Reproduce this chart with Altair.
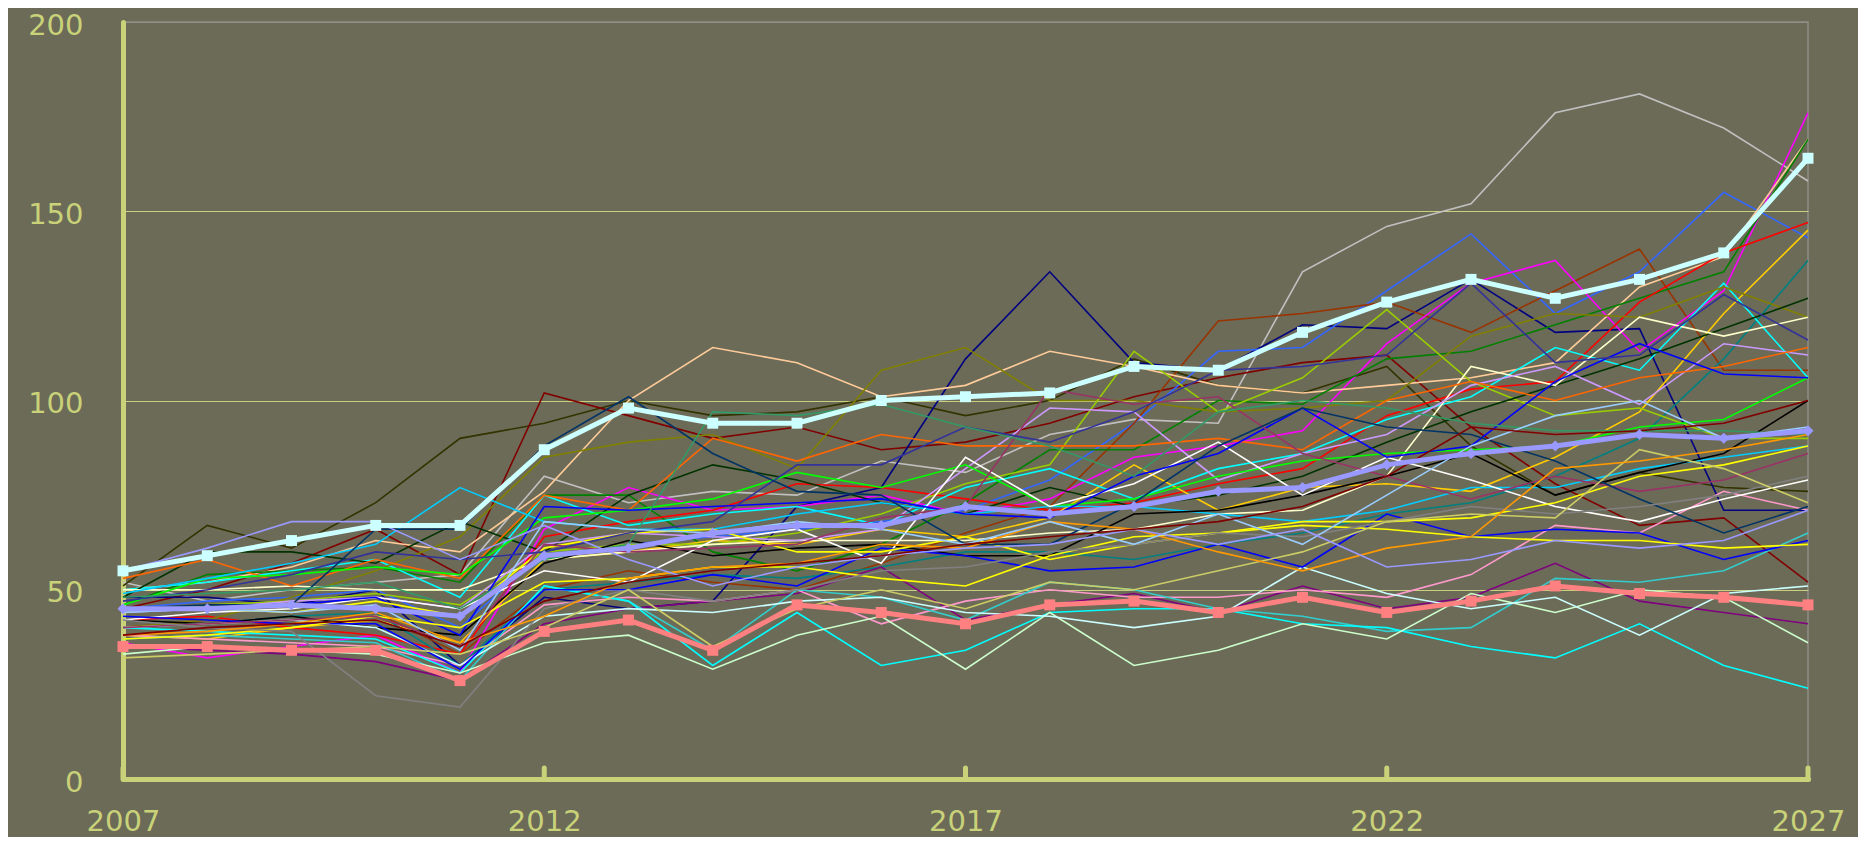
import altair as alt
import pandas as pd

years = list(range(2007, 2028))

# highlighted series
hl_top = [55, 59, 63, 67, 67, 87, 98, 94, 94, 100, 101, 102, 109, 108, 118, 126, 132, 127, 132, 139, 164]
hl_mid = [45, 45, 46, 45, 43, 59, 61, 65, 67, 67, 72, 70, 72, 76, 77, 83, 86, 88, 91, 90, 92]
hl_low = [35, 35, 34, 34, 26, 39, 42, 34, 46, 44, 41, 46, 47, 44, 48, 44, 47, 51, 49, 48, 46]

# thin series
s_silver = [52, 47, 50, 52, 54, 80, 73, 76, 75, 84, 81, 91, 95, 94, 134, 146, 152, 176, 181, 172, 158]
s_darkolive = [51, 67, 61, 73, 90, 94, 100, 96, 97, 101, 96, 100, 111, 104, 102, 109, 88, 75, 81, 77, 76]
s_darkred = [45, 50, 57, 66, 54, 102, 96, 90, 93, 87, 89, 94, 101, 106, 110, 112, 93, 78, 67, 69, 52]
s_navy = [48, 48, 46, 50, 30, 48, 45, 47, 72, 77, 111, 134, 110, 108, 120, 119, 132, 118, 119, 71, 71]
s_blue3366 = [45, 47, 48, 50, 40, 60, 62, 64, 66, 68, 71, 79, 94, 113, 114, 129, 144, 123, 134, 155, 143]
s_brown = [40, 42, 41, 44, 33, 50, 55, 52, 50, 57, 65, 72, 94, 121, 123, 126, 118, 129, 140, 108, 108]
s_magenta = [36, 32, 35, 38, 28, 66, 77, 71, 72, 75, 70, 74, 85, 88, 92, 115, 131, 137, 113, 129, 176]
s_peach = [50, 52, 56, 63, 60, 76, 100, 114, 110, 101, 104, 113, 109, 104, 102, 104, 106, 110, 130, 138, 169]
s_green = [46, 54, 55, 56, 52, 75, 75, 60, 55, 62, 73, 87, 87, 100, 99, 111, 113, 120, 127, 134, 169]
s_red = [42, 43, 40, 38, 33, 64, 68, 71, 78, 77, 74, 71, 73, 78, 82, 96, 103, 105, 126, 139, 147]
s_gold = [38, 37, 40, 42, 36, 58, 60, 63, 62, 66, 64, 69, 83, 71, 77, 78, 76, 85, 97, 123, 145]
s_teal = [40, 41, 43, 44, 30, 50, 52, 54, 53, 56, 60, 60, 58, 62, 65, 70, 73, 80, 90, 111, 137]
s_cyan = [50, 52, 55, 58, 48, 75, 67, 70, 72, 67, 77, 82, 74, 82, 86, 95, 101, 114, 108, 131, 106]
s_olive = [40, 42, 48, 55, 64, 85, 89, 91, 82, 108, 114, 100, 100, 97, 98, 100, 117, 123, 122, 130, 122]
s_yellowgreen = [44, 46, 47, 49, 46, 60, 62, 62, 65, 70, 78, 83, 113, 97, 106, 124, 105, 96, 98, 90, 90]
s_darkgreen = [48, 60, 60, 57, 68, 60, 75, 83, 79, 73, 70, 77, 72, 75, 80, 89, 97, 104, 111, 119, 127]
s_cream = [50, 50, 51, 50, 50, 58, 60, 62, 63, 63, 63, 65, 66, 70, 71, 80, 109, 104, 122, 117, 122]
s_lilac = [44, 45, 47, 48, 45, 62, 65, 64, 63, 66, 82, 98, 97, 79, 86, 91, 104, 109, 99, 115, 112]
s_orange = [53, 58, 51, 58, 53, 75, 71, 90, 84, 91, 88, 88, 88, 90, 87, 100, 105, 100, 106, 109, 114]
s_lime = [46, 53, 54, 56, 54, 69, 71, 74, 81, 77, 83, 72, 74, 80, 84, 86, 87, 88, 93, 95, 106]
s_sky = [49, 53, 57, 62, 77, 68, 66, 66, 70, 73, 70, 72, 72, 70, 68, 71, 77, 77, 82, 85, 88]
s_black = [42, 41, 43, 40, 38, 57, 63, 59, 61, 62, 59, 59, 70, 71, 75, 80, 86, 75, 81, 86, 100]
s_purple = [35, 34, 33, 31, 26, 41, 45, 47, 49, 56, 42, 46, 49, 44, 51, 45, 48, 57, 47, 44, 41]
s_pink = [38, 37, 36, 35, 30, 46, 48, 47, 50, 41, 47, 50, 48, 48, 50, 48, 54, 67, 65, 76, 71]
s_turq = [37, 38, 37, 36, 26, 51, 47, 34, 50, 48, 42, 52, 50, 45, 43, 39, 40, 53, 52, 55, 65]
s_cyan2 = [40, 39, 38, 37, 28, 51, 47, 30, 44, 30, 34, 44, 45, 45, 41, 40, 35, 32, 41, 30, 24]
s_palegreen = [33, 35, 34, 33, 28, 36, 38, 29, 38, 43, 29, 44, 30, 34, 41, 37, 49, 44, 50, 48, 36]
s_white = [42, 44, 45, 48, 45, 55, 52, 63, 66, 57, 85, 72, 78, 89, 75, 85, 79, 72, 68, 74, 79]
s_palecyan = [40, 41, 42, 40, 30, 43, 45, 44, 47, 48, 44, 43, 40, 43, 56, 49, 45, 48, 38, 49, 51]
s_blue = [43, 42, 41, 41, 29, 50, 50, 54, 51, 61, 59, 55, 56, 62, 56, 70, 64, 66, 65, 58, 63]
s_blue2 = [45, 45, 46, 48, 38, 72, 71, 72, 73, 74, 70, 69, 80, 86, 98, 85, 88, 105, 115, 107, 106]
s_yellow = [45, 45, 44, 47, 43, 61, 65, 66, 60, 60, 64, 58, 62, 65, 67, 66, 64, 63, 63, 61, 62]
s_yellow2 = [37, 38, 40, 43, 40, 52, 53, 56, 56, 53, 51, 59, 64, 65, 68, 68, 69, 73, 80, 83, 88]
s_plum = [40, 41, 42, 43, 35, 62, 60, 61, 62, 69, 72, 103, 99, 101, 86, 80, 74, 80, 76, 79, 86]
s_indigo = [47, 50, 54, 60, 58, 60, 65, 68, 83, 83, 93, 89, 97, 108, 109, 112, 131, 110, 112, 128, 116]
s_slate = [45, 46, 46, 66, 66, 88, 101, 86, 76, 75, 62, 62, 73, 88, 98, 93, 91, 84, 74, 65, 72]
s_seagreen = [48, 49, 50, 52, 45, 58, 62, 97, 96, 99, 93, 88, 80, 97, 100, 98, 94, 92, 92, 92, 91]
s_gray = [42, 40, 39, 22, 19, 45, 50, 47, 50, 55, 56, 60, 62, 65, 64, 68, 72, 70, 72, 75, 80]
s_khaki = [32, 33, 34, 35, 33, 40, 50, 35, 45, 50, 45, 52, 50, 55, 60, 68, 70, 69, 87, 82, 73]
s_orange2 = [38, 39, 41, 44, 36, 43, 53, 56, 57, 62, 61, 68, 66, 60, 55, 61, 64, 82, 84, 87, 91]
s_lightblue = [44, 45, 44, 46, 34, 68, 66, 65, 68, 66, 62, 68, 62, 70, 62, 75, 88, 96, 100, 90, 93]
s_peri = [55, 61, 68, 68, 58, 67, 58, 51, 56, 59, 61, 62, 66, 62, 66, 56, 58, 63, 61, 63, 71]
s_darkred2 = [38, 40, 41, 42, 35, 47, 52, 55, 57, 59, 62, 64, 66, 68, 72, 80, 93, 91, 92, 94, 100]

thin = [
    ("silver", "#c0c0c0", s_silver), ("darkolive", "#333300", s_darkolive),
    ("darkred", "#800000", s_darkred), ("navy", "#000080", s_navy),
    ("blue3366", "#3366ff", s_blue3366), ("brown", "#993300", s_brown),
    ("magenta", "#ff00ff", s_magenta), ("peach", "#ffcc99", s_peach),
    ("green", "#008000", s_green), ("red", "#ff0000", s_red),
    ("gold", "#ffcc00", s_gold), ("teal", "#008080", s_teal),
    ("cyan", "#00ffff", s_cyan), ("olive", "#808000", s_olive),
    ("yellowgreen", "#99cc00", s_yellowgreen), ("darkgreen", "#003300", s_darkgreen),
    ("cream", "#ffffcc", s_cream), ("lilac", "#cc99ff", s_lilac),
    ("orange", "#ff6600", s_orange), ("lime", "#00ff00", s_lime),
    ("sky", "#00ccff", s_sky), ("black", "#000000", s_black),
    ("purple", "#800080", s_purple), ("pink", "#ff99cc", s_pink),
    ("turq", "#33cccc", s_turq), ("cyan2", "#00ffff", s_cyan2),
    ("palegreen", "#ccffcc", s_palegreen), ("white", "#ffffff", s_white),
    ("palecyan", "#ccffff", s_palecyan), ("blue", "#0000ff", s_blue),
    ("blue2", "#0000ff", s_blue2), ("yellow", "#ffff00", s_yellow),
    ("yellow2", "#ffff00", s_yellow2), ("plum", "#993366", s_plum),
    ("indigo", "#333399", s_indigo), ("slate", "#003366", s_slate),
    ("seagreen", "#339966", s_seagreen), ("gray", "#808080", s_gray),
    ("khaki", "#cccc66", s_khaki), ("orange2", "#ff9900", s_orange2),
    ("lightblue", "#99ccff", s_lightblue), ("peri", "#9999ff", s_peri),
    ("darkred2", "#800000", s_darkred2),
]

x_ticks = [2007, 2012, 2017, 2022, 2027]
y_ticks = [0, 50, 100, 150, 200]

AX = "#c9d278"
BG = "#6c6b58"
FONT = "DejaVu Sans"
W, H = 1685, 757

rows = []
for name, col, vals in thin:
    for yr, v in zip(years, vals):
        rows.append({"year": yr, "value": v, "series": name})
df_thin = pd.DataFrame(rows)

xscale = alt.Scale(domain=[2007, 2027], nice=False, zero=False)
yscale = alt.Scale(domain=[0, 200], nice=False)

x_axis = alt.Axis(values=x_ticks, format="d", title=None, grid=False,
                  domainColor=AX, domainWidth=5, domainCap="round",
                  ticks=False, tickSize=0, labelFont=FONT, labelFontSize=29,
                  labelColor=AX, labelPadding=28, labelFlush=False,
                  labelOverlap=False)
y_axis = alt.Axis(values=y_ticks, title=None, grid=True,
                  gridColor={"condition": {"test": "datum.value === 200", "value": "#8e8e86"},
                             "value": "#c8d080"},
                  gridWidth=1.2, domainColor=AX, domainWidth=5, domainCap="round",
                  ticks=False, tickSize=0, labelFont=FONT, labelFontSize=29,
                  labelColor=AX, labelPadding=40, labelOffset=3)

X = alt.X("year:Q", scale=xscale, axis=x_axis)
Y = alt.Y("value:Q", scale=yscale, axis=y_axis)

thin_layer = alt.Chart(df_thin).mark_line(strokeWidth=1.6).encode(
    x=X, y=Y,
    color=alt.Color("series:N", legend=None,
                    scale=alt.Scale(domain=[t[0] for t in thin], range=[t[1] for t in thin])),
)

def thick(vals, color, shape):
    d = pd.DataFrame({"year": years, "value": vals})
    base = alt.Chart(d).encode(x=alt.X("year:Q", scale=xscale), y=alt.Y("value:Q", scale=yscale))
    return base.mark_line(strokeWidth=5, color=color) + base.mark_point(
        shape=shape, filled=True, size=120, color=color, opacity=1)

tick_df = pd.DataFrame({"year": x_ticks})
tick_layer = alt.Chart(tick_df).mark_rule(color=AX, strokeWidth=5, strokeCap="round").encode(
    x=alt.X("year:Q", scale=xscale), y=alt.value(H - 11), y2=alt.value(H))

chart = alt.layer(
    thin_layer,
    thick(hl_low, "#ff8080", "square"),
    thick(hl_mid, "#9999ff", "diamond"),
    thick(hl_top, "#ccffff", "square"),
    tick_layer,
).properties(
    width=W, height=H,
    padding={"left": 115, "top": 14, "right": 50, "bottom": 58},
    autosize=alt.AutoSizeParams(type="none"),
    background=BG,
).configure_view(stroke="#8e8e86", strokeWidth=1.5)

chart.save("out.html", embed_options={"renderer": "svg", "actions": False})
